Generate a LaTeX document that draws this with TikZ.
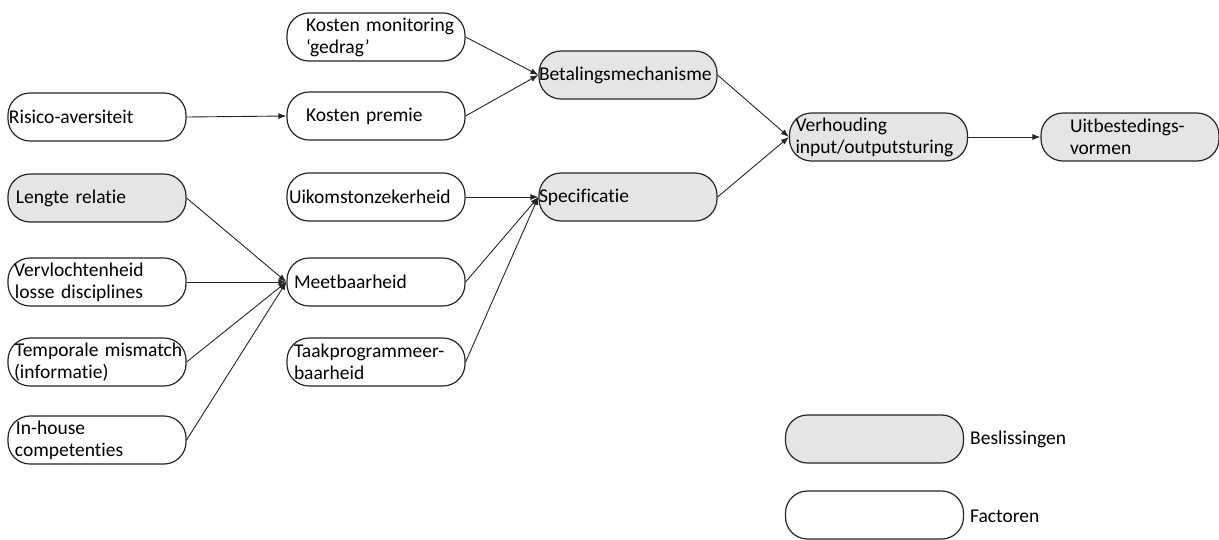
\documentclass[tikz,border=0pt]{standalone}
\usepackage{fontspec}
\setmainfont{Carlito}[RawFeature=-liga,WordSpace=0.8]
\usetikzlibrary{arrows.meta}
\newcommand{\ind}[1]{\hspace*{#1pt}}
\begin{document}
\begin{tikzpicture}[x=1pt,y=-1pt,
  box/.style={draw=black!85, line width=1.2pt, rounded corners=22pt, minimum width=178pt, minimum height=48pt, inner xsep=0pt, inner ysep=0pt, text width=178pt, align=left, font=\fontsize{19.5}{22}\selectfont},
  fac/.style={box, fill=white},
  dec/.style={box, fill=black!10},
  lab/.style={anchor=west, inner sep=0pt, font=\fontsize{19.5}{22}\selectfont},
  con/.style={draw=black!85, line width=0.9pt, -{Latex[length=8pt,width=6pt]}},
]
\useasboundingbox (0,0) rectangle (1219,539);
% left column
\node[fac] (ris) at (97,117) {\ind{1}Risico-aversiteit};
\node[dec] (len) at (97,198) {\ind{8}Lengte relatie};
\node[fac] (ver) at (97,282) {\ind{6}Vervlochtenheid\\\ind{7}losse disciplines};
\node[fac] (tem) at (97,362) {\ind{7}Temporale mismatch\\\ind{6}(informatie)};
\node[fac] (inh) at (97,440) {\ind{8}In-house\\\ind{7}competenties};
% second column
\node[fac] (kmo) at (376,37) {\ind{19}Kosten monitoring\\\ind{19}‘gedrag’};
\node[fac] (kpr) at (376,116) {\ind{19}Kosten premie};
\node[fac] (uik) at (376,197) {\ind{2}Uikomstonzekerheid};
\node[fac] (mee) at (376,282) {\ind{7}Meetbaarheid};
\node[fac] (taa) at (376,362) {\ind{7}Taakprogrammeer-\\\ind{7}baarheid};
% decisions
\node[dec] (bet) at (628,75) {\ind{0}Betalingsmechanisme};
\node[dec] (spe) at (628,197) {\ind{0}Specificatie};
\node[dec] (vhd) at (878.5,137) {\ind{6}Verhouding\\\ind{6}input/outputsturing};
\node[dec] (uit) at (1130,137) {\ind{29}Uitbestedings-\\\ind{29}vormen};
% legend
\node[dec] (lgd) at (874.5,439) {};
\node[fac] (lgf) at (874.5,515) {};
\node[lab] (lgdt) at (970,439) {Beslissingen};
\node[lab] (lgft) at (970,516) {Factoren};
% connectors
\draw[con] (ris.east) -- (kpr.west);
\draw[con] (kmo.east) -- (bet.west);
\draw[con] (kpr.east) -- (bet.west);
\draw[con] (uik.east) -- (spe.west);
\draw[con] (mee.east) -- (spe.west);
\draw[con] (taa.east) -- (spe.west);
\draw[con] (len.east) -- (mee.west);
\draw[con] (ver.east) -- (mee.west);
\draw[con] (tem.east) -- (mee.west);
\draw[con] (inh.east) -- (mee.west);
\draw[con] (bet.east) -- (vhd.west);
\draw[con] (spe.east) -- (vhd.west);
\draw[con] (vhd.east) -- (uit.west);
\end{tikzpicture}
\end{document}
